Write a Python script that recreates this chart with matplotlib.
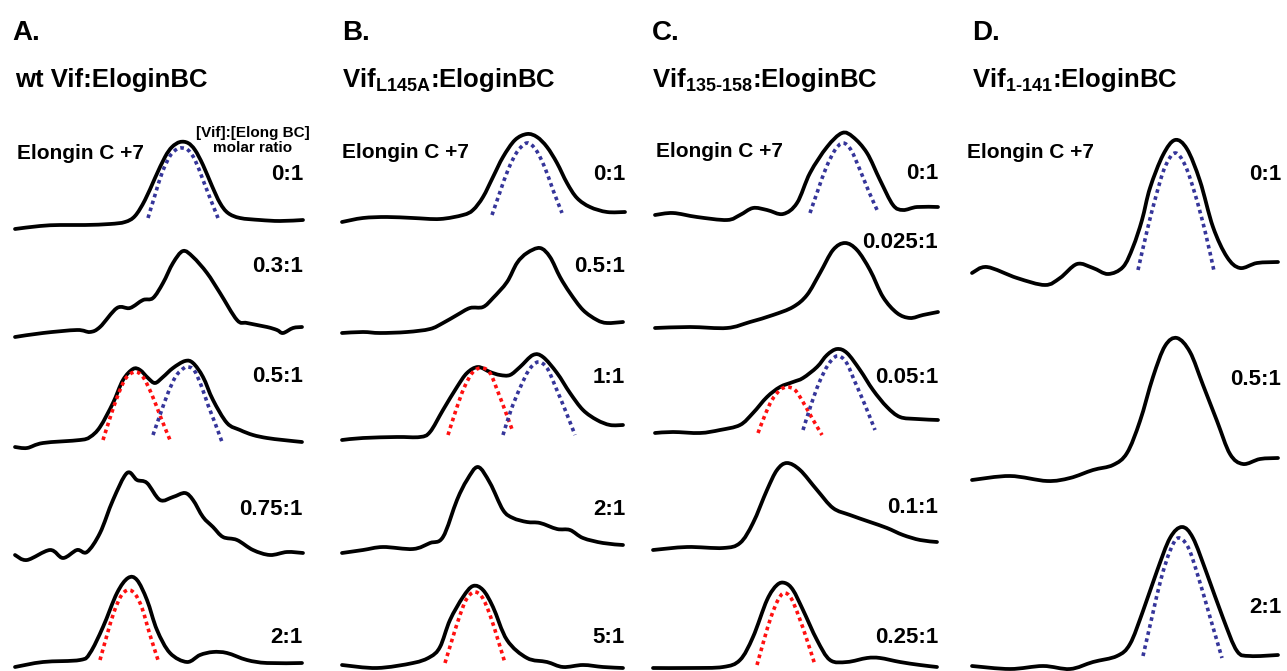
import matplotlib
matplotlib.use('Agg')
import matplotlib.pyplot as plt
from matplotlib.path import Path
from matplotlib.patches import PathPatch

plt.rcParams['font.family'] = ['Liberation Sans', 'DejaVu Sans']
plt.rcParams['font.weight'] = 'bold'
plt.rcParams['mathtext.fontset'] = 'custom'
plt.rcParams['mathtext.rm'] = 'Liberation Sans:bold'
plt.rcParams['mathtext.bf'] = 'Liberation Sans:bold'

### traces: x = m/z position (panel units), h = intensity above baseline
# panel A: wt Vif
a_x_0 = [15, 40, 60, 85, 110, 125, 135, 145, 155, 165, 172, 180, 188, 195, 203, 212, 220, 228, 240, 260, 280, 303]
a_h_0 = [-1, 2, 3, 3, 4, 6, 12, 28, 50, 71, 81, 86, 85, 78, 63, 42, 25, 15, 10, 8, 7, 8]
a_x_03 = [15, 43, 77, 90, 100, 117, 130, 143, 153, 163, 173, 183, 193, 207, 220, 237, 247, 267, 277, 283, 293, 302]
a_h_03 = [0, 4, 7, 5, 10, 29, 29, 37, 39, 54, 74, 86, 80, 64, 44, 17, 14, 10, 7, 4, 9, 10]
a_x_05 = [15, 27, 43, 80, 90, 100, 113, 123, 133, 140, 148, 155, 163, 173, 185, 193, 203, 213, 227, 240, 253, 267, 283, 302]
a_h_05 = [0, -1, 4, 7, 10, 20, 44, 67, 78, 77, 69, 64, 70, 79, 86, 84, 70, 47, 24, 17, 12, 9, 7, 5]
a_x_075 = [15, 27, 50, 63, 77, 87, 100, 113, 127, 137, 147, 160, 173, 185, 193, 203, 213, 223, 237, 253, 270, 287, 303]
a_h_075 = [0, -5, 5, -3, 5, 3, 22, 55, 82, 75, 72, 55, 58, 62, 55, 38, 28, 18, 15, 5, 0, 3, 2]
a_x_2 = [15, 43, 80, 90, 103, 117, 128, 137, 147, 157, 170, 187, 200, 213, 227, 247, 267, 302]
a_h_2 = [-2, 3, 5, 12, 38, 72, 87, 85, 65, 35, 12, 3, 10, 13, 12, 5, 2, 2]
# fitted components (dotted)
a_fit_x_0 = [148, 155, 162, 170, 177, 182, 188, 195, 203, 210, 218]
a_fit_h_0 = [10, 33, 55, 72, 79, 80, 78, 68, 48, 30, 10]
a_fitr_x_05 = [103, 110, 118, 126, 135, 143, 152, 161, 170]
a_fitr_h_05 = [7, 29, 52, 69, 75, 70, 52, 29, 7]
a_fitb_x_05 = [153, 160, 168, 176, 184, 188, 194, 201, 208, 215, 222]
a_fitb_h_05 = [12, 32, 54, 71, 79, 80, 77, 62, 42, 24, 5]
a_fitr_x_2 = [100, 107, 114, 121, 128, 135, 142, 150, 158]
a_fitr_h_2 = [5, 30, 53, 69, 75, 71, 57, 30, 5]

# panel B: Vif L145A
b_x_0 = [12, 33, 57, 83, 110, 133, 143, 153, 163, 173, 185, 197, 207, 217, 227, 237, 247, 260, 277, 295]
b_h_0 = [0, 4, 5, 4, 3, 7, 12, 25, 45, 65, 82, 88, 85, 75, 59, 39, 24, 15, 10, 10]
b_x_05 = [12, 33, 50, 77, 100, 113, 127, 140, 153, 163, 177, 187, 197, 210, 220, 230, 240, 253, 267, 277, 293]
b_h_05 = [0, 1, 0, 1, 4, 10, 18, 25, 26, 35, 51, 70, 80, 85, 76, 56, 40, 23, 13, 10, 11]
b_x_1 = [12, 33, 67, 90, 100, 113, 127, 137, 148, 160, 170, 180, 190, 203, 213, 227, 240, 253, 267, 280, 293]
b_h_1 = [0, 2, 3, 3, 8, 30, 53, 67, 73, 68, 65, 65, 73, 85, 83, 67, 47, 30, 20, 15, 15]
b_x_2 = [12, 33, 53, 83, 100, 113, 127, 137, 148, 160, 173, 183, 197, 210, 227, 240, 253, 273, 293]
b_h_2 = [0, 3, 6, 4, 10, 16, 53, 73, 86, 70, 43, 35, 31, 30, 24, 23, 15, 10, 8]
b_x_5 = [12, 47, 83, 100, 110, 120, 133, 143, 153, 163, 177, 197, 217, 233, 253, 273, 293]
b_h_5 = [0, -3, 2, 8, 18, 45, 68, 79, 75, 58, 25, 7, 3, -2, 0, -2, -3]
b_fit_x_0 = [162, 170, 178, 187, 197, 206, 215, 223, 232]
b_fit_h_0 = [7, 30, 52, 70, 79, 72, 54, 32, 9]
b_fitr_x_1 = [118, 126, 134, 143, 152, 160, 168, 176, 183]
b_fitr_h_1 = [5, 30, 52, 68, 72, 67, 48, 27, 8]
b_fitb_x_1 = [173, 181, 190, 199, 208, 217, 226, 236, 245]
b_fitb_h_1 = [5, 30, 52, 70, 78, 72, 52, 28, 5]
b_fitr_x_5 = [115, 122, 129, 136, 144, 152, 160, 168, 175]
b_fitr_h_5 = [2, 25, 47, 65, 73, 68, 50, 25, 2]

# panel C: Vif 135-158
c_x_0 = [15, 33, 57, 87, 100, 113, 127, 143, 157, 170, 187, 202, 213, 227, 240, 253, 263, 277, 298]
c_h_0 = [0, 2, -2, -5, 0, 7, 5, 1, 12, 42, 68, 82, 78, 62, 35, 10, 5, 8, 8]
c_x_0025 = [15, 50, 87, 110, 133, 153, 167, 180, 193, 205, 217, 230, 243, 257, 270, 283, 298]
c_h_0025 = [0, 1, 0, 6, 13, 21, 33, 55, 78, 85, 78, 58, 31, 15, 10, 13, 16]
c_x_005 = [15, 33, 60, 80, 100, 113, 127, 140, 153, 163, 177, 187, 197, 207, 220, 233, 247, 260, 277, 298]
c_h_005 = [0, 1, 0, 3, 8, 20, 36, 46, 51, 55, 66, 78, 84, 80, 63, 43, 26, 16, 14, 13]
c_x_01 = [13, 47, 83, 100, 113, 127, 137, 147, 160, 177, 193, 210, 230, 247, 263, 280, 297]
c_h_01 = [0, 3, 2, 7, 27, 60, 80, 87, 80, 60, 42, 35, 28, 22, 15, 10, 8]
c_x_025 = [13, 50, 83, 100, 113, 127, 137, 145, 153, 163, 177, 190, 207, 227, 240, 260, 280, 297]
c_h_025 = [0, 0, 1, 8, 31, 68, 83, 85, 78, 58, 28, 8, 6, 10, 10, 6, 3, 1]
c_fit_x_0 = [170, 178, 186, 195, 203, 211, 220, 229, 238]
c_fit_h_0 = [2, 25, 47, 65, 72, 65, 45, 23, 3]
c_fitr_x_005 = [118, 125, 132, 140, 147, 155, 163, 172, 182]
c_fitr_h_005 = [0, 18, 33, 43, 46, 43, 31, 15, -2]
c_fitb_x_005 = [163, 171, 179, 188, 197, 206, 215, 225, 235]
c_fitb_h_005 = [3, 28, 50, 68, 77, 71, 51, 28, 3]
c_fitr_x_025 = [117, 124, 131, 138, 144, 151, 159, 167, 175]
c_fitr_h_025 = [3, 28, 51, 68, 75, 70, 51, 28, 3]

# panel D: Vif 1-141
d_x_0 = [12, 27, 57, 85, 100, 117, 133, 148, 163, 173, 182, 190, 203, 215, 227, 240, 253, 267, 280, 297, 318]
d_h_0 = [0, 6, -5, -12, -5, 9, 5, -1, 6, 26, 53, 85, 118, 133, 124, 92, 46, 16, 5, 10, 11]
d_x_05 = [12, 50, 87, 110, 133, 153, 167, 180, 193, 205, 217, 230, 243, 257, 270, 283, 300, 318]
d_h_05 = [0, 4, -1, 2, 10, 15, 27, 59, 103, 134, 142, 128, 95, 59, 26, 16, 21, 22]
d_x_2 = [12, 50, 83, 110, 133, 157, 170, 183, 197, 210, 222, 233, 247, 263, 277, 290, 318]
d_h_2 = [0, -3, 0, -3, 4, 10, 22, 55, 95, 128, 139, 128, 92, 48, 15, 10, 11]
d_fit_x_0 = [178, 187, 196, 205, 215, 225, 235, 245, 254]
d_fit_h_0 = [3, 42, 77, 106, 120, 108, 79, 42, 2]
d_fit_x_2 = [183, 192, 201, 210, 218, 228, 238, 250, 262]
d_fit_h_2 = [10, 49, 87, 115, 128, 119, 90, 49, 8]

panel_letters = ['A.', 'B.', 'C.', 'D.']
panel_titles = ['wt Vif:EloginBC',
                r'Vif$_{\text{L145A}}$:EloginBC',
                r'Vif$_{\text{135-158}}$:EloginBC',
                r'Vif$_{\text{1-141}}$:EloginBC']
a_ratios = ['0:1', '0.3:1', '0.5:1', '0.75:1', '2:1']
b_ratios = ['0:1', '0.5:1', '1:1', '2:1', '5:1']
c_ratios = ['0:1', '0.025:1', '0.05:1', '0.1:1', '0.25:1']
d_ratios = ['0:1', '0.5:1', '2:1']

### layout (figure pixels)
W, H = 1287, 671
panel_left = [0, 330, 640, 960]
panel_width = [330, 310, 320, 327]
BLUE = '#35359a'
RED = '#ff1010'

fig = plt.figure(figsize=(W / 100, H / 100), dpi=100)


def panel_axes(i):
    ax = fig.add_axes([panel_left[i] / W, 0, panel_width[i] / W, 1])
    ax.set_xlim(0, panel_width[i])
    ax.set_ylim(H, 0)
    ax.axis('off')
    return ax


def smooth_path(x, y):
    # Catmull-Rom through the read points, drawn as cubic Bezier segments
    pts = list(zip(x, y))
    n = len(pts)
    verts = [pts[0]]
    codes = [Path.MOVETO]
    for i in range(n - 1):
        p0 = pts[max(i - 1, 0)]
        p1 = pts[i]
        p2 = pts[i + 1]
        p3 = pts[min(i + 2, n - 1)]
        c1 = (p1[0] + (p2[0] - p0[0]) / 6, p1[1] + (p2[1] - p0[1]) / 6)
        c2 = (p2[0] - (p3[0] - p1[0]) / 6, p2[1] - (p3[1] - p1[1]) / 6)
        verts += [c1, c2, p2]
        codes += [Path.CURVE4] * 3
    return Path(verts, codes)


def trace(ax, x, h, base):
    p = smooth_path(x, [base - v for v in h])
    ax.add_patch(PathPatch(p, fill=False, edgecolor='black', lw=2.7,
                           joinstyle='round', capstyle='round', clip_on=False))


def fit(ax, x, h, base, color):
    p = smooth_path(x, [base - v for v in h])
    ax.add_patch(PathPatch(p, fill=False, edgecolor=color, lw=2.6,
                           linestyle=(0, (1, 1)), clip_on=False))


def headers(ax, i, ratios, ratio_y, ratio_right, elong_x, elong_y):
    ax.text(12, 40, panel_letters[i], fontsize=20, fontweight='bold')
    ax.text(12 if i else 15, 87, panel_titles[i], fontsize=18.5, fontweight='bold')
    ax.text(elong_x, elong_y, 'Elongin C +7', fontsize=15, fontweight='bold')
    for r, y in zip(ratios, ratio_y):
        ax.text(ratio_right, y, r, fontsize=16, fontweight='bold', ha='right')


# ---- A
ax = panel_axes(0)
base_a = [228, 337, 447, 555, 665]
for (x, h), b in zip([(a_x_0, a_h_0), (a_x_03, a_h_03), (a_x_05, a_h_05),
                      (a_x_075, a_h_075), (a_x_2, a_h_2)], base_a):
    trace(ax, x, h, b)
fit(ax, a_fit_x_0, a_fit_h_0, base_a[0], BLUE)
fit(ax, a_fitr_x_05, a_fitr_h_05, base_a[2], RED)
fit(ax, a_fitb_x_05, a_fitb_h_05, base_a[2], BLUE)
fit(ax, a_fitr_x_2, a_fitr_h_2, base_a[4], RED)
headers(ax, 0, a_ratios, [180, 272, 382, 515, 643], 303, 17, 159)
ax.text(253, 137, '[Vif]:[Elong BC]', fontsize=11, fontweight='bold', ha='center')
ax.text(253, 152, 'molar ratio', fontsize=11, fontweight='bold', ha='center')

# ---- B
ax = panel_axes(1)
base_b = [222, 333, 440, 553, 665]
for (x, h), b in zip([(b_x_0, b_h_0), (b_x_05, b_h_05), (b_x_1, b_h_1),
                      (b_x_2, b_h_2), (b_x_5, b_h_5)], base_b):
    trace(ax, x, h, b)
fit(ax, b_fit_x_0, b_fit_h_0, base_b[0], BLUE)
fit(ax, b_fitr_x_1, b_fitr_h_1, base_b[2], RED)
fit(ax, b_fitb_x_1, b_fitb_h_1, base_b[2], BLUE)
fit(ax, b_fitr_x_5, b_fitr_h_5, base_b[4], RED)
headers(ax, 1, b_ratios, [180, 272, 383, 515, 643], 295, 12, 158)

# ---- C
ax = panel_axes(2)
base_c = [215, 328, 433, 550, 668]
for (x, h), b in zip([(c_x_0, c_h_0), (c_x_0025, c_h_0025), (c_x_005, c_h_005),
                      (c_x_01, c_h_01), (c_x_025, c_h_025)], base_c):
    trace(ax, x, h, b)
fit(ax, c_fit_x_0, c_fit_h_0, base_c[0], BLUE)
fit(ax, c_fitr_x_005, c_fitr_h_005, base_c[2], RED)
fit(ax, c_fitb_x_005, c_fitb_h_005, base_c[2], BLUE)
fit(ax, c_fitr_x_025, c_fitr_h_025, base_c[4], RED)
headers(ax, 2, c_ratios, [179, 248, 383, 513, 643], 298, 16, 157)

# ---- D
ax = panel_axes(3)
base_d = [273, 480, 666]
for (x, h), b in zip([(d_x_0, d_h_0), (d_x_05, d_h_05), (d_x_2, d_h_2)], base_d):
    trace(ax, x, h, b)
fit(ax, d_fit_x_0, d_fit_h_0, base_d[0], BLUE)
fit(ax, d_fit_x_2, d_fit_h_2, base_d[2], BLUE)
headers(ax, 3, d_ratios, [180, 385, 613], 321, 7, 158)

fig.savefig('out.png', dpi=100, facecolor='white')
